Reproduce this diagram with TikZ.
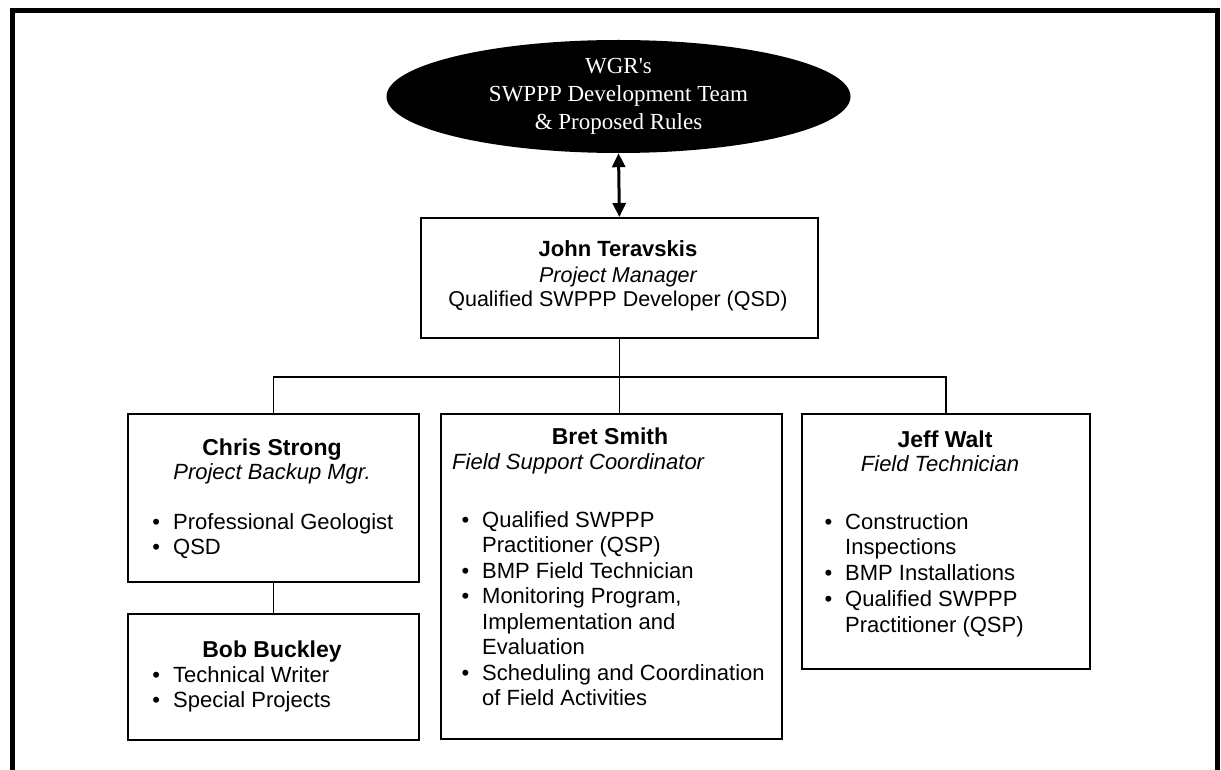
\documentclass[tikz,border=0pt]{standalone}
\usepackage{fontspec}
\setmainfont{Liberation Sans}
\newfontfamily\ellfont{Liberation Serif}
\usetikzlibrary{shapes.geometric,arrows.meta}
\newcommand{\bu}{\makebox[0pt][r]{\textbullet\hspace{13pt}}}
\begin{document}
\begin{tikzpicture}[x=1pt,y=-1pt,
  box/.style={draw, line width=1.8pt, inner sep=0pt, anchor=north west},
  conn/.style={line width=1.8pt},
  nm/.style={font=\fontsize{23}{26}\selectfont\bfseries, anchor=base, inner sep=0pt},
  jt/.style={font=\fontsize{21.5}{24}\selectfont, anchor=base, inner sep=0pt},
  jtb/.style={font=\fontsize{22}{24}\selectfont\bfseries, anchor=base, inner sep=0pt},
  jti/.style={font=\fontsize{21.5}{24}\selectfont\itshape, anchor=base, inner sep=0pt},
  ttl/.style={font=\fontsize{22}{26}\selectfont\itshape, anchor=base, inner sep=0pt},
  ttlw/.style={font=\fontsize{22}{26}\selectfont\itshape, anchor=base west, inner sep=0pt},
  bul/.style={font=\fontsize{22}{26}\selectfont, anchor=base west, inner sep=0pt},
  ell/.style={font=\fontsize{23}{28}\selectfont\ellfont, text=white, anchor=base, inner sep=0pt}
]
\useasboundingbox (0,0) rectangle (1221,770);
% outer frame
\draw[line width=5pt] (12,770) -- (12,11) -- (1217,11) -- (1217,770);

% ellipse
\node[ellipse, fill=black, minimum width=464pt, minimum height=113pt, inner sep=0pt] (wgr) at (618.5,96.5) {};
\node[ell] (wgr1) at (618.5,74) {WGR's};
\node[ell] (wgr2) at (618.5,102) {SWPPP Development Team};
\node[ell] (wgr3) at (618.5,130) {\& Proposed Rules};

% boxes
\node[box, minimum width=397pt, minimum height=120pt] (john) at (420,217) {};
\node[box, minimum width=291pt, minimum height=168pt] (chris) at (127,413) {};
\node[box, minimum width=291pt, minimum height=126pt] (bob) at (127,613) {};
\node[box, minimum width=341pt, minimum height=325pt] (bret) at (440,413) {};
\node[box, minimum width=288pt, minimum height=255pt] (jeff) at (801,413) {};

% arrow
\draw[line width=3pt, {Triangle[length=14pt,width=13pt]}-{Triangle[length=14pt,width=13pt]}] (wgr.south) -- (john.north);

% connectors
\coordinate (hbar) at (617,377);
\draw[conn] (john.south) -- (john.south |- bret.north);
\draw[conn] (chris.north) -- (chris.north |- hbar) -- (jeff.north |- hbar) -- (jeff.north);
\draw[conn] (chris.south) -- (bob.north);

% John
\node[jtb] (j1) at (618,257) {John Teravskis};
\node[jti] (j2) at (618,282) {Project Manager};
\node[jt]  (j3) at (618,306) {Qualified SWPPP Developer (QSD)};

% Chris
\node[nm]  (c1) at (272,455) {Chris Strong};
\node[ttl] (c2) at (272,479) {Project Backup Mgr.};
\node[bul] (c3) at (173,529) {\bu Professional Geologist};
\node[bul] (c4) at (173,554) {\bu QSD};

% Bob
\node[nm]  (b1) at (272,657) {Bob Buckley};
\node[bul] (b2) at (173,682) {\bu Technical Writer};
\node[bul] (b3) at (173,707) {\bu Special Projects};

% Bret
\node[nm]   (s1) at (610,444) {Bret Smith};
\node[ttlw] (s2) at (452,469) {Field Support Coordinator};
\node[bul] (s3) at (482,527) {\bu Qualified SWPPP};
\node[bul] (s4) at (482,552.5) {Practitioner (QSP)};
\node[bul] (s5) at (482,578) {\bu BMP Field Technician};
\node[bul] (s6) at (482,603.5) {\bu Monitoring Program,};
\node[bul] (s7) at (482,629) {Implementation and};
\node[bul] (s8) at (482,654.5) {Evaluation};
\node[bul] (s9) at (482,680) {\bu Scheduling and Coordination};
\node[bul] (s10) at (482,705.5) {of Field Activities};

% Jeff
\node[nm]  (f1) at (945,447) {Jeff Walt};
\node[ttl] (f2) at (940,471) {Field Technician};
\node[bul] (f3) at (845,529) {\bu Construction};
\node[bul] (f4) at (845,554) {Inspections};
\node[bul] (f5) at (845,580) {\bu BMP Installations};
\node[bul] (f6) at (845,606) {\bu Qualified SWPPP};
\node[bul] (f7) at (845,632) {Practitioner (QSP)};
\end{tikzpicture}
\end{document}
